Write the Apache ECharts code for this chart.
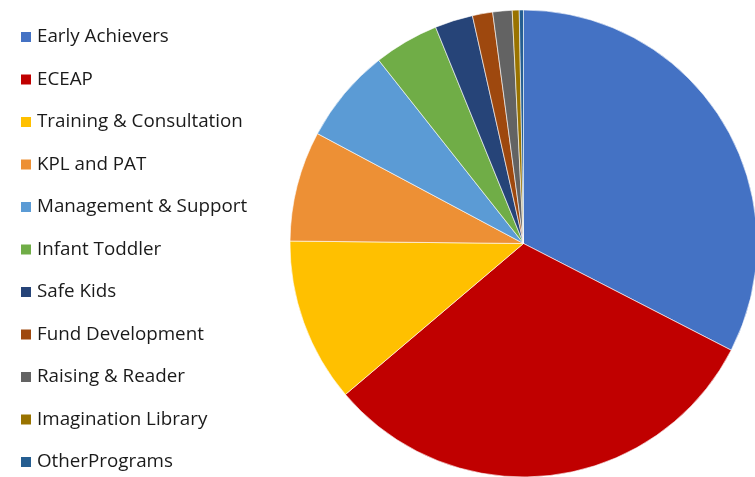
<!DOCTYPE html>
<html><head><meta charset="utf-8">
<script src="https://cdn.jsdelivr.net/npm/echarts@6/dist/echarts.min.js"></script>
<style>html,body{margin:0;padding:0;background:#fff}#c{width:755px;height:477px}</style>
</head><body><div id="c"></div>
<script>
const categories = ["Early Achievers","ECEAP","Training & Consultation","KPL and PAT","Management & Support","Infant Toddler","Safe Kids","Fund Development","Raising & Reader","Imagination Library","OtherPrograms"];
const values = [32.55, 31.25, 11.36, 7.63, 6.56, 4.5, 2.63, 1.4, 1.34, 0.48, 0.29];
const colors = ["#4472C4","#C00000","#FFC000","#ED9035","#5B9BD5","#70AD47","#264478","#9E480E","#636363","#997300","#255E91"];
const chart = echarts.init(document.getElementById('c'), null, {renderer:'canvas'});
chart.setOption({
  animation:false,
  color: colors,
  legend:{
    orient:'vertical', left:14, top:22, height:470,
    itemWidth:12, itemHeight:12, itemGap:22.5,
    icon:'rect',
    textStyle:{fontFamily:'Open Sans', fontSize:18.8, color:'#1a1a1a', lineHeight:20},
    data: categories
  },
  series:[{
    type:'pie', center:[523.5,243.5], radius:233.5, startAngle:90, clockwise:true,
    label:{show:false}, labelLine:{show:false},
    itemStyle:{borderColor:'#fff', borderWidth:0.6},
    emphasis:{disabled:true},
    data: categories.map((n,i)=>({name:n, value:values[i]}))
  }]
});
</script></body></html>
